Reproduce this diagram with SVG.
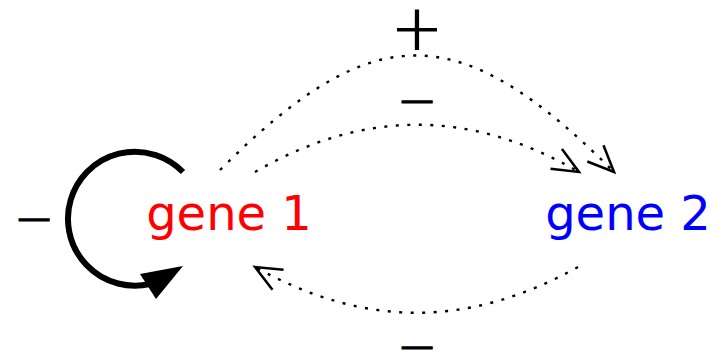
<svg xmlns="http://www.w3.org/2000/svg" width="727" height="352" viewBox="0 0 727 352">
<defs>
<style>
.lbl{font-family:"DejaVu Sans",sans-serif;font-weight:200;fill:#000;stroke:#000;stroke-width:1.2;text-anchor:middle}
.gene{font-family:"DejaVu Sans",sans-serif;font-size:48px;text-anchor:middle}
.dot{fill:none;stroke:#000;stroke-width:2.4;stroke-dasharray:3 8.5;stroke-linecap:butt}
</style>
<marker id="open" markerUnits="userSpaceOnUse" markerWidth="40" markerHeight="40" refX="0" refY="0" viewBox="-30 -15 35 30" orient="auto">
<path d="M -23,-10 L 0,0 L -23,10" fill="none" stroke="#000" stroke-width="2.2" stroke-dasharray="none"/>
</marker>
</defs>
<rect width="727" height="352" fill="#fff"/>
<g id="gene1"><text class="gene" x="229" y="230" fill="#ff0000">gene 1</text></g>
<g id="gene2"><text class="gene" x="628" y="230" fill="#0000ff">gene 2</text></g>
<g id="connectors">
<g id="selfloop">
<path d="M 183,172 A 67,67 0 1 0 150,284" fill="none" stroke="#000" stroke-width="6"/>
<polygon points="183,266 140,274 156,299" fill="#000"/>
</g>
<path class="dot" d="M 220,170 C 373,17 459,17 614,172" marker-end="url(#open)"/>
<path class="dot" d="M 255,172 C 364,109 470,109 579,172" marker-end="url(#open)"/>
<path class="dot" d="M 578,267 C 468,328 365,328 255,267" marker-end="url(#open)"/>
</g>
<g id="labels">
<text class="lbl" x="34" y="235" font-size="48">−</text>
<text class="lbl" x="417" y="49" font-size="62">+</text>
<text class="lbl" x="417" y="117" font-size="48">−</text>
<text class="lbl" x="417" y="363" font-size="48">−</text>
</g>
</svg>
